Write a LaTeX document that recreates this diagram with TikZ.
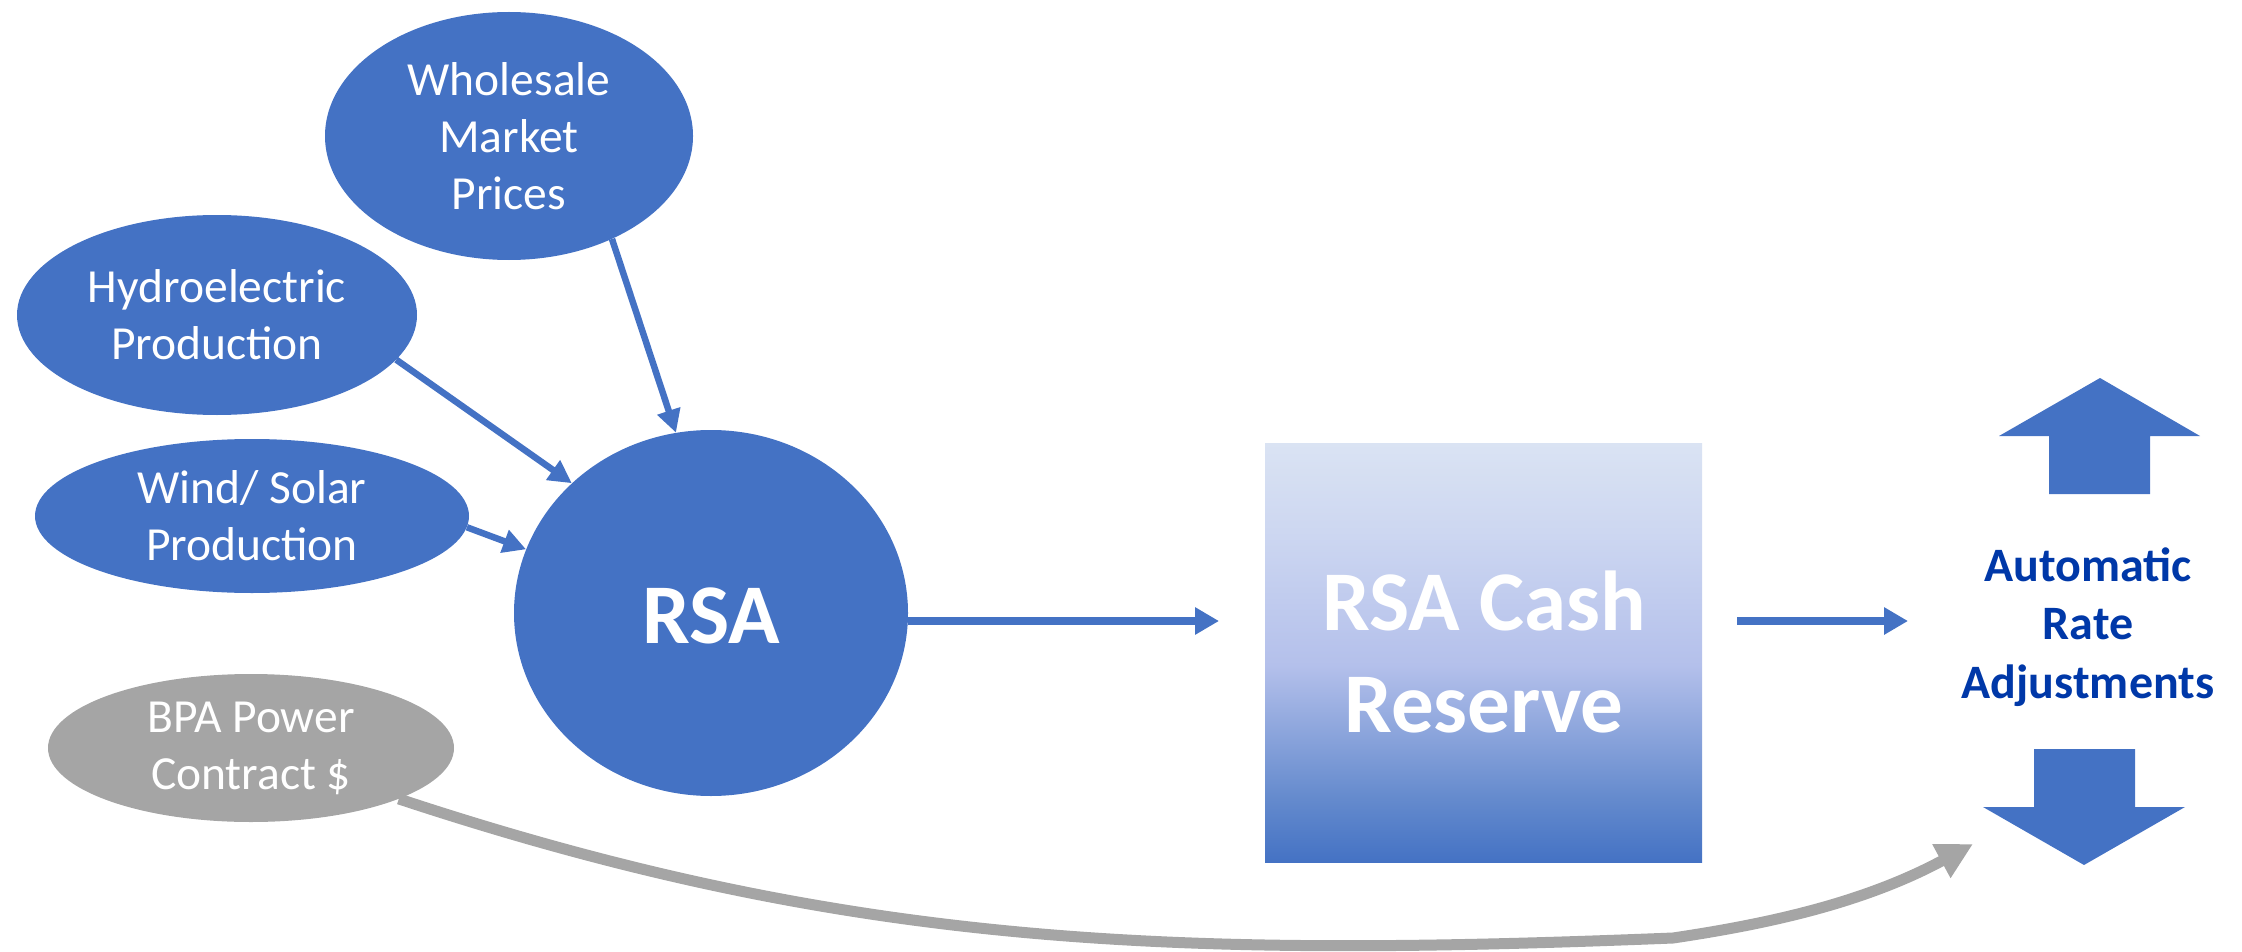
\documentclass[tikz,border=0pt]{standalone}
\usepackage{fontspec}
\setmainfont{Carlito}
\usetikzlibrary{arrows.meta,shapes.geometric}
\definecolor{cblue}{HTML}{4472C4}
\definecolor{cgray}{HTML}{A5A5A5}
\definecolor{cdark}{RGB}{0,56,168}
\definecolor{shA}{RGB}{68,114,196}
\definecolor{shB}{RGB}{100,138,205}
\definecolor{shC}{RGB}{180,192,235}
\definecolor{shD}{RGB}{205,215,241}
\definecolor{shE}{RGB}{218,227,243}
\pgfdeclareverticalshading{boxshade}{100bp}{color(0bp)=(shA); color(25bp)=(shA); color(32.5bp)=(shB); color(48.5bp)=(shC); color(64.5bp)=(shD); color(75bp)=(shE); color(100bp)=(shE)}
\begin{document}
\begin{tikzpicture}[x=1pt,y=-1pt,
  ell/.style={ellipse, fill=cblue, text=white, inner sep=0pt, align=center,
    font=\fontsize{47.5}{57}\selectfont},
  feed/.style={draw=cblue, line width=6.5pt, -{Triangle[length=23pt,width=23pt]}},
  flow/.style={draw=cblue, line width=8.5pt, -{Triangle[length=24pt,width=26pt]}},
  bigtxt/.style={text=white, font=\fontsize{85}{102}\selectfont\bfseries, inner sep=0pt},
  bigarrow/.style={fill=cblue}
]
\useasboundingbox (0,0) rectangle (2242,952);

\node[ell, minimum width=368pt, minimum height=248pt] (whole) at (509,136) {Wholesale\\Market\\Prices};
\node[ell, minimum width=400pt, minimum height=200pt] (hydro) at (217,315) {Hydroelectric\\Production};
\node[ell, minimum width=434pt, minimum height=154pt] (wind) at (252,516) {Wind/ Solar\\Production};
\node[ell, fill=cgray, minimum width=406pt, minimum height=148pt] (bpa) at (251,748) {BPA Power\\Contract \$};
\node[ellipse, fill=cblue, inner sep=0pt, minimum width=394pt, minimum height=366pt] (rsa) at (711,613) {};
\node[bigtxt, anchor=base] (rsatxt) at (711,643) {RSA};

\node[shading=boxshade, minimum width=437pt, minimum height=419pt, inner sep=0pt] (box) at (1483.5,652.5) {};
\node[bigtxt, anchor=base] (boxtxt1) at (1484,630) {RSA Cash};
\node[bigtxt, anchor=base] (boxtxt2) at (1484,732) {Reserve};

\node[text=cdark, align=center, inner sep=0pt, font=\fontsize{48}{58.5}\selectfont\bfseries] (adj) at (2088,627) {Automatic\\Rate\\Adjustments};

\draw[feed] (whole.-45) -- (rsa.101);
\draw[feed] (hydro.-14) -- (rsa.137);
\draw[feed] (wind.-3) -- (rsa.161);

\coordinate (e1) at (1219,621);
\coordinate (s2) at (1737,621);
\coordinate (e2) at (1908,621);
\draw[flow] (rsa.east |- e1) -- (e1);
\draw[flow] (s2) -- (e2);

% up and down arrows
\fill[bigarrow] (2100,378) -- (2200,436) -- (2150,436) -- (2150,494) -- (2049,494) -- (2049,436) -- (1999,436) -- cycle;
\fill[bigarrow] (2084,865) -- (2185,807) -- (2135,807) -- (2135,749) -- (2034,749) -- (2034,807) -- (1983,807) -- cycle;

\coordinate (mid) at (1673,938);
\coordinate (tip) at (1973,844);
\draw[draw=cgray, line width=11pt, -{Triangle[length=36pt,width=36pt]}]
  (bpa.-19) .. controls (850,948) and (1173,958) .. (mid)
  .. controls (1760,925) and (1860,905) .. (tip);
\end{tikzpicture}
\end{document}
